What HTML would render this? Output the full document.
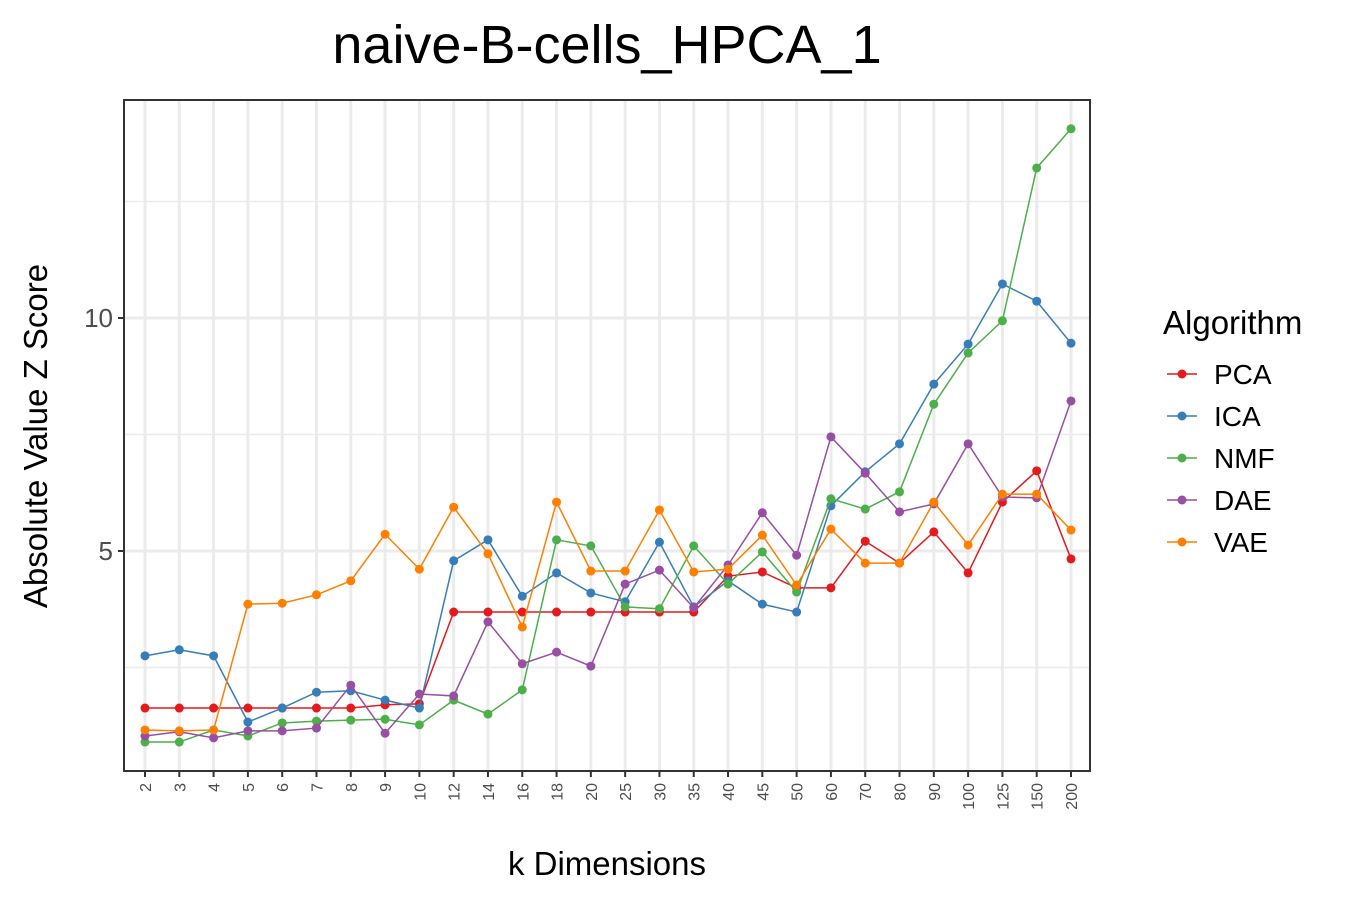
<!DOCTYPE html>
<html><head><meta charset="utf-8"><style>
body{margin:0;background:#fff;font-family:"Liberation Sans",Arial,sans-serif}
</style></head><body>
<svg width="1350" height="900" xmlns="http://www.w3.org/2000/svg">
<text x="607" y="63" font-size="54" text-anchor="middle">naive-B-cells_HPCA_1</text>
<g id="grid"></g>
<g id="series"></g>
<rect x="124" y="100" width="966" height="671" fill="none" stroke="#333" stroke-width="2"/>
<g id="axes"></g>
<text x="607" y="875" font-size="33" text-anchor="middle">k Dimensions</text>
<text transform="translate(47,436) rotate(-90)" font-size="33" text-anchor="middle">Absolute Value Z Score</text>
<text x="1163" y="334" font-size="33">Algorithm</text>
<g id="legend"></g>
</svg>
<script>
const categories=["2","3","4","5","6","7","8","9","10","12","14","16","18","20","25","30","35","40","45","50","60","70","80","90","100","125","150","200"];
const seriesNames=["PCA","ICA","NMF","DAE","VAE"];
const pca=[1.63,1.63,1.63,1.63,1.63,1.63,1.63,1.70,1.72,3.69,3.69,3.69,3.69,3.69,3.69,3.69,3.69,4.46,4.55,4.21,4.21,5.21,4.74,5.41,4.53,6.05,6.72,4.83];
const ica=[2.75,2.88,2.75,1.33,1.63,1.97,2.0,1.80,1.63,4.79,5.24,4.03,4.53,4.10,3.91,5.19,3.80,4.36,3.86,3.69,5.97,6.70,7.30,8.58,9.44,10.73,10.36,9.46];
const nmf=[0.90,0.90,1.16,1.03,1.31,1.35,1.37,1.39,1.27,1.80,1.50,2.02,5.24,5.11,3.80,3.76,5.11,4.29,4.98,4.12,6.12,5.90,6.27,8.15,9.25,9.94,13.22,14.06];
const dae=[1.03,1.12,0.99,1.14,1.14,1.20,2.12,1.09,1.93,1.89,3.48,2.58,2.83,2.53,4.29,4.59,3.78,4.70,5.82,4.91,7.45,6.67,5.84,6.01,7.30,6.16,6.14,8.22];
const vae=[1.16,1.14,1.16,3.86,3.88,4.06,4.36,5.36,4.61,5.94,4.94,3.37,6.05,4.57,4.57,5.88,4.55,4.61,5.34,4.27,5.47,4.74,4.74,6.05,5.13,6.22,6.22,5.45];
const yTicks=[5,10];
const yMinor=[2.5,7.5,12.5];
const colors=["#E41A1C","#377EB8","#4DAF4A","#984EA3","#FF7F00"];
const NS="http://www.w3.org/2000/svg";
const x=i=>145+i*(1071-145)/(categories.length-1);
const y=v=>784-v*46.6;
function mk(t,a,p){const e=document.createElementNS(NS,t);for(const k in a)e.setAttribute(k,a[k]);p.appendChild(e);return e;}
const grid=document.getElementById('grid'),axes=document.getElementById('axes'),ser=document.getElementById('series'),leg=document.getElementById('legend');
yMinor.forEach(v=>{const l=mk('line',{x1:124,x2:1090,y1:y(v),y2:y(v),stroke:'#ebebeb','stroke-width':1.5},grid);

});
yTicks.forEach(v=>{const l=mk('line',{x1:124,x2:1090,y1:y(v),y2:y(v),stroke:'#ebebeb','stroke-width':3},grid);


mk('line',{x1:118,x2:124,y1:y(v),y2:y(v),stroke:'#333','stroke-width':2},axes);
const t=mk('text',{x:113,y:y(v)+9,'font-size':26,fill:'#4d4d4d','text-anchor':'end'},axes);t.textContent=v;

});
categories.forEach((c,i)=>{const l=mk('line',{x1:x(i),x2:x(i),y1:100,y2:771,stroke:'#ebebeb','stroke-width':3},grid);


mk('line',{x1:x(i),x2:x(i),y1:771,y2:777,stroke:'#333','stroke-width':2},axes);
const t=mk('text',{transform:`translate(${x(i)+6},783) rotate(-90)`,'font-size':16,fill:'#4d4d4d','text-anchor':'end'},axes);t.textContent=c;

});
[pca,ica,nmf,dae,vae].forEach((d,s)=>{const g=mk('g',{},ser);


mk('polyline',{points:d.map((v,i)=>x(i)+','+y(v)).join(' '),fill:'none',stroke:colors[s],'stroke-width':1.5},g);
d.forEach((v,i)=>{const c=mk('circle',{cx:x(i),cy:y(v),r:4.5,fill:colors[s]},g);

});
const ly=374+s*42;const lg=mk('g',{},leg);


mk('line',{x1:1167,x2:1197,y1:ly,y2:ly,stroke:colors[s],'stroke-width':1.5},lg);
mk('circle',{cx:1182,cy:ly,r:4.5,fill:colors[s]},lg);
const t=mk('text',{x:1214,y:ly+10,'font-size':28},lg);t.textContent=seriesNames[s];});
</script>
</body></html>
